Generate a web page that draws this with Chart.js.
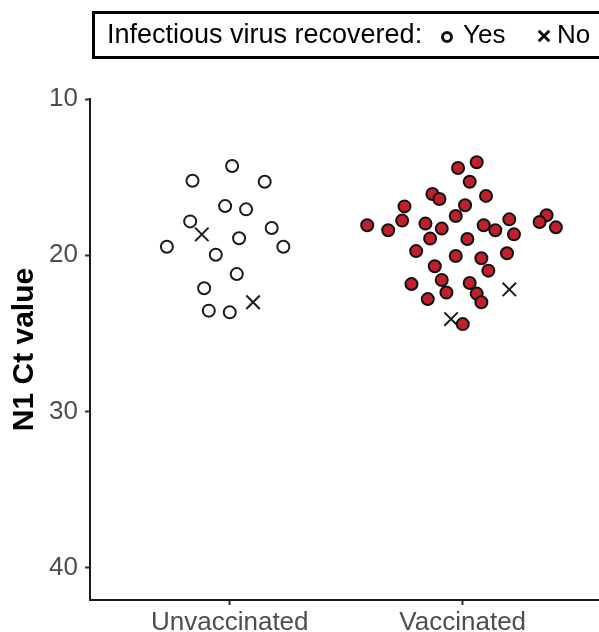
<!DOCTYPE html>
<html>
<head>
<meta charset="utf-8">
<script src="https://cdn.jsdelivr.net/npm/chart.js@4.4.0/dist/chart.umd.min.js"></script>
<style>
  body { margin: 0; background: #fff; }
  canvas { display: block; }
</style>
</head>
<body>
<canvas id="ctChart" width="599" height="632"></canvas>
<script>
const categories = ['Unvaccinated', 'Vaccinated'];
const yTicks = [10, 20, 30, 40];
const legendTitle = 'Infectious virus recovered:';
const legendLabels = ['Yes', 'No'];

// jittered x positions (1 = Unvaccinated, 2 = Vaccinated) and N1 Ct values
const unvaxYesX = [1.01, 0.84, 1.15, 0.98, 1.07, 0.83, 1.18, 1.04, 0.73, 1.23, 0.94, 1.03, 0.89, 0.91, 1.00];
const unvaxYesCt = [14.29, 15.23, 15.29, 16.85, 17.06, 17.83, 18.25, 18.91, 19.45, 19.45, 19.96, 21.2, 22.11, 23.54, 23.65];

const unvaxNoX = [0.88, 1.10];
const unvaxNoCt = [18.66, 23.0];

const vaxYesX = [2.06, 1.98, 2.03, 1.87, 1.90, 2.10, 1.75, 2.01, 1.97, 2.36, 1.74, 2.20, 2.33, 1.59, 1.84, 2.40, 1.68, 2.09, 1.91,
                 2.14, 2.22, 1.86, 2.02, 1.80, 2.19, 1.97, 2.08, 1.88, 2.11, 1.78, 1.91, 2.03, 1.93, 2.06, 1.85, 2.08, 2.00];
const vaxYesCt = [14.05, 14.41, 15.29, 16.08, 16.4, 16.2, 16.87, 16.8, 17.48, 17.44, 17.78, 17.7, 17.87, 18.08, 17.97, 18.21, 18.4, 18.08, 18.29,
                  18.4, 18.66, 18.93, 18.96, 19.73, 19.87, 20.04, 20.19, 20.7, 20.98, 21.84, 21.58, 21.77, 22.38, 22.45, 22.8, 23.0, 24.4];

const vaxNoX = [2.20, 1.95];
const vaxNoCt = [22.18, 24.08];

const FONT = '"Liberation Sans", Arial, sans-serif';

function toPoints(xs, ys) {
    return xs.map((x, i) => ({ x: x, y: ys[i] }));
}

// legend drawn in a box above the panel, like the ggplot top legend
const legendBox = {
    id: 'legendBox',
    afterDraw(chart) {
        const ctx = chart.ctx;
        ctx.save();
        ctx.lineWidth = 3;
        ctx.strokeStyle = '#000';
        ctx.strokeRect(93.5, 12.5, 530, 45);

        ctx.fillStyle = '#000';
        ctx.textBaseline = 'middle';
        ctx.font = '27px ' + FONT;
        ctx.fillText(legendTitle, 107, 36);
        ctx.font = '26px ' + FONT;
        ctx.fillText(legendLabels[0], 463, 36);
        ctx.fillText(legendLabels[1], 557, 36);

        ctx.strokeStyle = '#111';
        ctx.fillStyle = '#fff';
        Chart.helpers.drawPoint(ctx, { pointStyle: 'circle', radius: 4.5, borderWidth: 1.4 }, 447, 37);
        Chart.helpers.drawPoint(ctx, { pointStyle: 'crossRot', radius: 7.5, borderWidth: 1.4 }, 544, 36);
        ctx.restore();
    }
};

const ctx = document.getElementById('ctChart').getContext('2d');
const ctChart = new Chart(ctx, {
    type: 'scatter',
    data: {
        datasets: [
            {
                label: 'Unvaccinated - Yes',
                data: toPoints(unvaxYesX, unvaxYesCt),
                pointStyle: 'circle',
                pointRadius: 6,
                backgroundColor: '#ffffff',
                borderColor: '#1a1a1a',
                borderWidth: 2
            },
            {
                label: 'Unvaccinated - No',
                data: toPoints(unvaxNoX, unvaxNoCt),
                pointStyle: 'crossRot',
                pointRadius: 9.5,
                borderColor: '#1a1a1a',
                borderWidth: 2
            },
            {
                label: 'Vaccinated - Yes',
                data: toPoints(vaxYesX, vaxYesCt),
                pointStyle: 'circle',
                pointRadius: 6,
                backgroundColor: '#c0202c',
                borderColor: '#111111',
                borderWidth: 2
            },
            {
                label: 'Vaccinated - No',
                data: toPoints(vaxNoX, vaxNoCt),
                pointStyle: 'crossRot',
                pointRadius: 9.5,
                borderColor: '#1a1a1a',
                borderWidth: 2
            }
        ]
    },
    options: {
        responsive: false,
        animation: false,
        layout: { autoPadding: false, padding: { top: 99, right: 0, left: 0, bottom: 0 } },
        plugins: {
            legend: { display: false },
            tooltip: { enabled: false }
        },
        scales: {
            x: {
                type: 'linear',
                min: 0.4,
                max: 2.585,
                afterBuildTicks: (scale) => { scale.ticks = [{ value: 1 }, { value: 2 }]; },
                afterFit: (scale) => { scale.height = 32; },
                grid: {
                    drawOnChartArea: false,
                    tickLength: 5,
                    tickColor: '#333',
                    tickWidth: 2
                },
                border: { display: true, color: '#1a1a1a', width: 2 },
                ticks: {
                    padding: 2,
                    color: '#4d4d4d',
                    font: { family: FONT, size: 26 },
                    callback: (v) => categories[v - 1]
                }
            },
            y: {
                reverse: true,
                min: 10,
                max: 42.05,
                afterBuildTicks: (scale) => { scale.ticks = yTicks.map(v => ({ value: v })); },
                afterFit: (scale) => { scale.width = 90; },
                grid: {
                    drawOnChartArea: false,
                    tickLength: 5,
                    tickColor: '#333',
                    tickWidth: 2
                },
                border: { display: true, color: '#1a1a1a', width: 2 },
                ticks: {
                    padding: 7,
                    color: '#4d4d4d',
                    font: { family: FONT, size: 26 }
                },
                title: {
                    display: true,
                    text: 'N1 Ct value',
                    color: '#000',
                    padding: { top: 7, bottom: 0 },
                    font: { family: FONT, size: 30, weight: 'bold' }
                }
            }
        }
    },
    plugins: [legendBox]
});
</script>
</body>
</html>
